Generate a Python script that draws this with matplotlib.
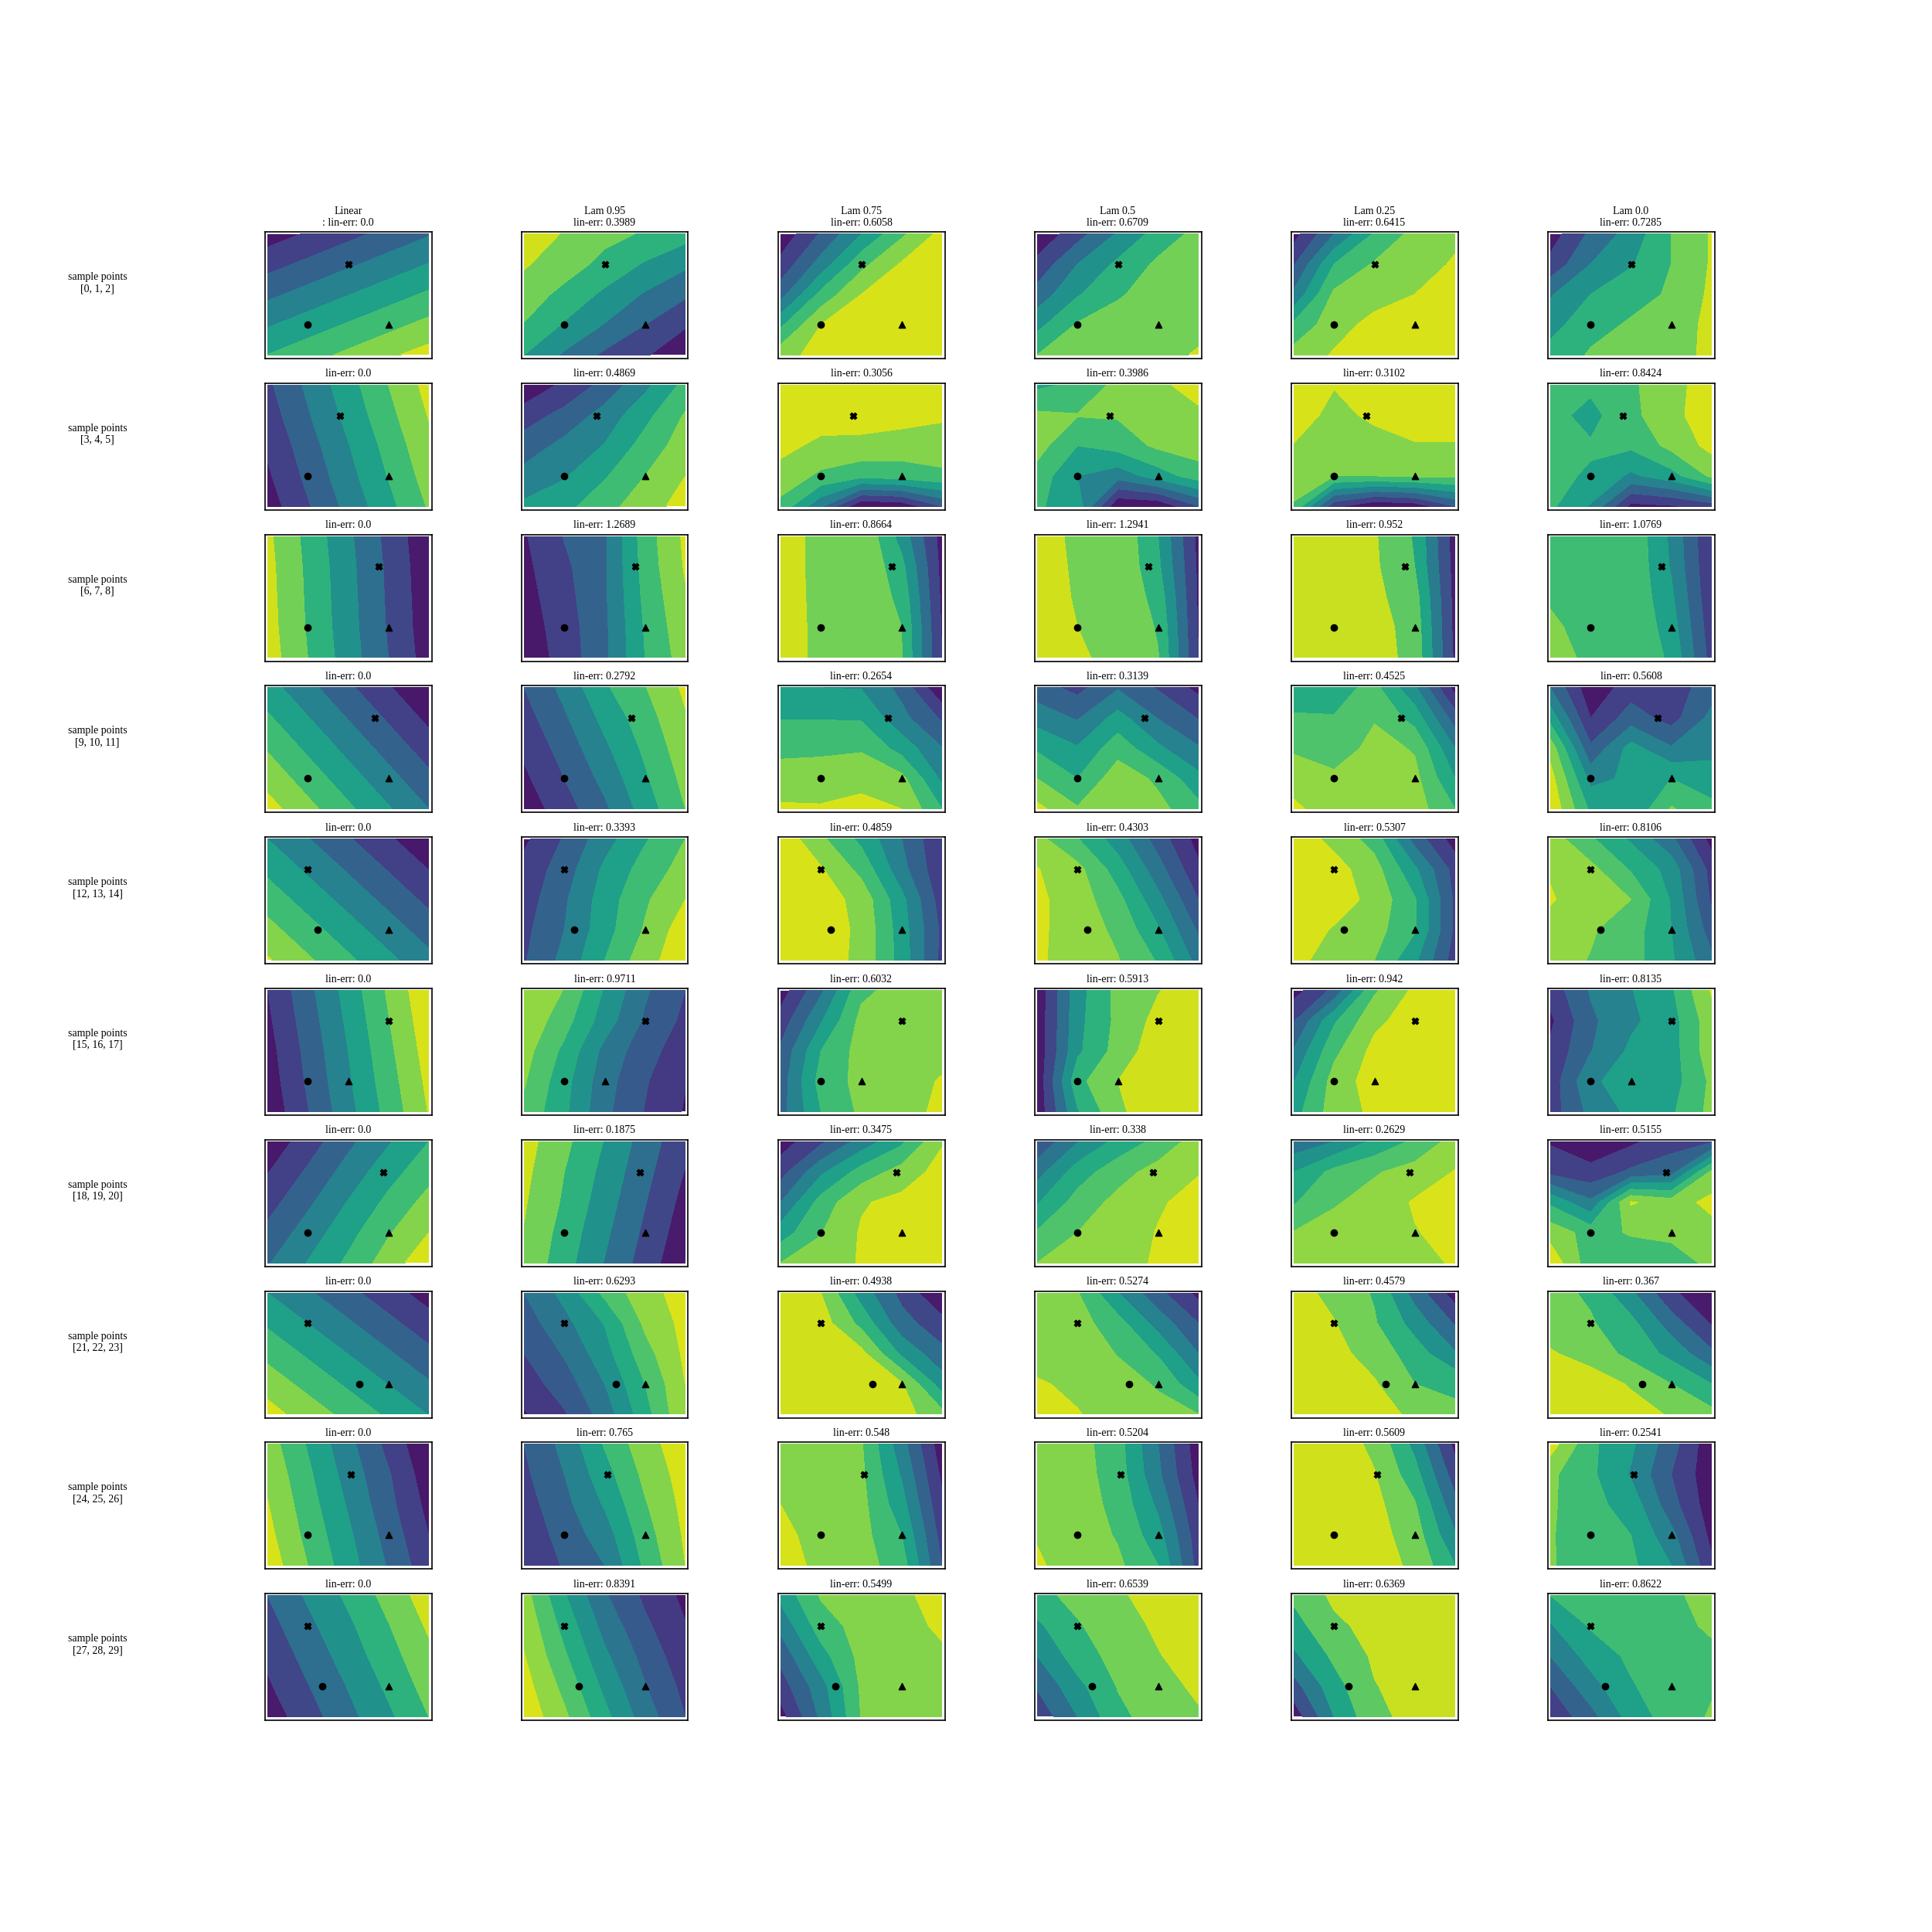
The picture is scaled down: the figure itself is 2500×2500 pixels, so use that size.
import numpy as np
import matplotlib
matplotlib.use('Agg')
import matplotlib.pyplot as plt

plt.rcParams['font.family'] = ['Liberation Serif', 'DejaVu Serif']

# column headers and the lin-err value of every panel
headers = ['Linear\n: ', 'Lam 0.95\n', 'Lam 0.75\n', 'Lam 0.5\n', 'Lam 0.25\n', 'Lam 0.0\n']
lin_err = [
    [0.0, 0.3989, 0.6058, 0.6709, 0.6415, 0.7285],
    [0.0, 0.4869, 0.3056, 0.3986, 0.3102, 0.8424],
    [0.0, 1.2689, 0.8664, 1.2941, 0.952, 1.0769],
    [0.0, 0.2792, 0.2654, 0.3139, 0.4525, 0.5608],
    [0.0, 0.3393, 0.4859, 0.4303, 0.5307, 0.8106],
    [0.0, 0.9711, 0.6032, 0.5913, 0.942, 0.8135],
    [0.0, 0.1875, 0.3475, 0.338, 0.2629, 0.5155],
    [0.0, 0.6293, 0.4938, 0.5274, 0.4579, 0.367],
    [0.0, 0.765, 0.548, 0.5204, 0.5609, 0.2541],
    [0.0, 0.8391, 0.5499, 0.6539, 0.6369, 0.8622],
]
sample_ids = ['[0, 1, 2]', '[3, 4, 5]', '[6, 7, 8]', '[9, 10, 11]', '[12, 13, 14]',
              '[15, 16, 17]', '[18, 19, 20]', '[21, 22, 23]', '[24, 25, 26]', '[27, 28, 29]']

# sample point x positions per row (y is fixed: 0, 0, 1)
circle_x = [0, 0, 0, 0, 0.12, 0, 0, 0.64, 0, 0.18]
triangle_x = [1, 1, 1, 1, 1, 0.5, 1, 1, 1, 1]
cross_x = [0.5, 0.4, 0.88, 0.83, 0, 1, 0.94, 0, 0.53, 0]

# number of colour bands per panel
n_bands = [
    [8, 7, 8, 7, 8, 7],
    [8, 8, 8, 8, 8, 8],
    [7, 8, 7, 7, 6, 8],
    [8, 8, 8, 8, 9, 8],
    [8, 8, 8, 9, 8, 9],
    [8, 9, 8, 7, 8, 8],
    [8, 7, 8, 9, 9, 8],
    [8, 9, 7, 8, 7, 7],
    [8, 8, 8, 8, 7, 8],
    [7, 9, 8, 7, 6, 8],
]

# surfaces, top row first, one panel per line
z_row0 = [
    [[.5,1.1,1.7,2.3,2.9],[1.63,2.23,2.83,3.43,4.03],[2.76,3.36,3.96,4.56,5.16],[3.89,4.49,5.09,5.69,6.29],[5.02,5.62,6.22,6.82,7.42]],
    [[6.77,5.9,5.3,4.9,4.4],[6.1,5.5,4.7,3.9,3.2],[5.55,4.7,3.8,2.9,2.15],[4.95,3.9,2.95,2,1.1],[4,2.85,1.8,1.1,.3]],
    [[.3,2.1,4,5.8,7.3],[1.3,3.4,5.7,7.1,7.6],[2.6,5.3,7,7.6,7.6],[4.8,7,7.5,7.6,7.6],[6.6,7.4,7.6,7.6,7.6]],
    [[.2,1.6,3.1,4.4,5.3],[1.3,3,4.2,5.2,5.5],[2.4,3.9,4.9,5.4,5.6],[3.7,5.1,5.4,5.5,5.7],[5,5.4,5.5,5.7,6.1]],
    [[.6,3,5.1,6.3,6.8],[1.9,5,6.1,6.6,7.1],[3.2,6.2,6.6,7,7.3],[5.2,6.6,7.3,7.5,7.6],[6.4,7.1,7.5,7.6,7.6]],
    [[.5,2.2,3.4,5,6.1],[1.3,3,3.9,5,6.1],[2.9,4,4.7,5.1,6.2],[3.6,4.7,5.1,5.4,6.3],[4.4,5.1,5.3,5.5,6.3]],
]
z_row1 = [
    [[1.8,3.2,4.6,6,7.35],[1.5,2.9,4.3,5.7,7.05],[1.15,2.55,3.95,5.35,6.75],[.85,2.25,3.65,5.05,6.45],[.5,1.9,3.3,4.7,6.1]],
    [[.1,1.25,2.3,3.75,5.3],[1.55,2.3,3.4,4.7,6.1],[2.45,3.3,4.05,5.4,6.5],[3.35,3.9,4.9,6,7],[4.2,4.7,5.65,6.55,7.4]],
    [[7.8,7.8,7.8,7.8,7.7],[7.6,7.5,7.5,7.4,7.15],[7.3,6.75,6.7,6.5,6.5],[6.6,5.8,5.3,5.5,5.8],[5.7,3.2,.1,.3,2]],
    [[4.8,5.2,6.3,6.8,7.4],[6.2,6.05,6.1,6.7,6.8],[6.4,5,5.4,6.2,6.5],[5.6,4,3.4,4.5,5.5],[5.1,4.6,.1,.2,2]],
    [[7.7,7.05,7.5,7.7,7.7],[7.5,6.7,7.2,7.6,7.6],[6.95,6.5,6.6,6.9,6.9],[6.5,6,6,6.15,6.2],[5.9,1.3,.1,.4,2]],
    [[5.2,5.2,5.8,6.8,7.3],[5.3,4.7,5.7,6.8,7.4],[5.3,5.1,5.2,6.3,7.3],[5.2,4.9,3.8,4.6,6.2],[5.2,3.9,.7,.9,1.5]],
]
z_row2 = [
    [[6.2,4.7,3.2,1.7,.2],[6.3,4.8,3.3,1.8,.3],[6.35,4.85,3.35,1.85,.35],[6.4,4.9,3.4,1.9,.4],[6.5,5,3.5,2,.5]],
    [[.9,2.05,2.85,5.5,7.2],[.75,1.8,2.85,5.4,7.1],[.6,1.65,2.85,5.25,6.9],[.45,1.5,2.8,5.1,6.7],[.3,1.4,2.8,5,6.5]],
    [[6.03,5.98,5.95,3.6,.6],[6.06,5.96,5.95,4.3,.7],[6.1,5.94,5.9,4.7,.8],[6.15,5.92,5.9,5,.9],[6.2,5.9,5.85,5.05,1]],
    [[6.4,5.8,5.9,4,.7],[6.45,5.85,5.9,4.2,.8],[6.5,5.9,5.9,4.6,.85],[6.55,6,5.9,4.9,.9],[6.6,6.05,5.9,5.05,1]],
    [[5.7,5.4,5.1,3.9,.5],[5.7,5.45,5.15,4,.6],[5.7,5.5,5.25,4.4,.65],[5.7,5.55,5.4,4.6,.7],[5.7,5.6,5.4,4.7,.8]],
    [[5.4,5.3,5.8,3.8,1],[5.6,5.3,5.85,3.9,1.1],[5.8,5.35,5.85,4.2,1.2],[6.3,5.4,5.9,4.5,1.4],[7,5.45,5.9,4.8,1.6]],
]
z_row3 = [
    [[4.4,3.3,2.2,1.1,.05],[5.15,4.05,2.95,1.85,.75],[5.9,4.8,3.7,2.6,1.5],[6.65,5.55,4.45,3.35,2.25],[7.4,6.3,5.2,4.1,3]],
    [[2,3.3,4.85,5.95,7.2],[1.6,2.85,4.3,5.55,6.9],[1.2,2.4,3.8,5.2,6.6],[.8,2,3.3,4.85,6.3],[.4,1.55,2.8,4.45,6]],
    [[4,4,3.95,2.7,.1],[4.95,4.95,4.9,3.3,1.85],[5.75,5.8,5.9,4.6,3.05],[6.45,6.5,6.6,6.3,3.8],[7.15,7.1,7.4,7,5]],
    [[2.4,1.7,2.9,1.9,.7],[3.6,2.9,4.4,2.95,1.95],[4.85,4.1,5.6,4.2,3.1],[6,5,6.6,5.8,4.3],[7.3,6.1,7,6.3,5.3]],
    [[5.3,5.6,6.3,4.2,.6],[6.15,6.05,6.9,5.6,2.5],[6.85,6.3,7.4,6.9,4],[7.6,7.3,7.6,7.3,5],[8.2,7.5,7.6,7.5,6]],
    [[3,.3,1.5,1.5,2.5],[4.6,1,2.5,1.6,3.3],[6.6,2.2,4.4,3.1,3.6],[7.4,3.7,4.2,5,4.6],[7.8,4.8,4.1,6.1,5.2]],
]
z_row4 = [
    [[4,3.05,2.1,1.15,.2],[4.78,3.83,2.88,1.93,.98],[5.55,4.6,3.65,2.7,1.75],[6.33,5.38,4.43,3.48,2.53],[7.1,6.15,5.2,4.25,3.3]],
    [[.8,2.1,3.6,4.9,6],[1.3,2.5,4.2,5.4,6.4],[1.5,2.85,4.5,5.85,7],[1.75,3,4.6,6.1,7.6],[1.9,3.3,5,6.6,7.7]],
    [[7.7,6.2,4.75,3,1.1],[7.7,7.1,5.7,3.35,1.2],[7.7,7.5,6.65,4.3,1.5],[7.7,7.5,6.8,4.5,1.8],[7.7,7.5,6.75,4.6,1.7]],
    [[7.3,6.05,4.5,2.55,.6],[8.05,7.3,5.5,3.4,1.2],[8.2,7.5,6.3,4.3,2],[8.2,7.5,6.8,5.1,2.85],[8.2,7.4,7.05,5.9,3.6]],
    [[7.6,6.7,5.6,2.6,.5],[7.6,7.4,6.4,4.2,1.6],[7.6,7.5,6.7,5.1,1.8],[7.6,6.9,6.4,5.1,1.8],[7.2,6.7,6,4.2,1.5]],
    [[7.5,6.15,4.85,3.25,.6],[7.9,7.3,5.9,4.6,1.6],[8.1,7.4,7,4.9,1.85],[7.6,7.1,6.5,5,2.5],[7.4,6.95,6.4,5.15,3.2]],
]
z_row5 = [
    [[1,2.7,4.4,6.15,7.85],[.8,2.5,4.2,5.95,7.65],[.6,2.3,4,5.75,7.45],[.45,2.15,3.85,5.55,7.25],[.25,1.95,3.65,5.35,7.05]],
    [[8,6.95,4.9,3.15,2],[7.8,6.4,4.5,2.85,1.75],[7.4,5.75,3.7,2.4,1.4],[7.1,5.35,3.4,2.1,1.05],[6.75,5.2,3.25,1.95,.9]],
    [[.5,2.8,5.75,6.4,6.5],[1.4,3.9,6.3,6.5,6.6],[2.2,5,6.4,6.5,6.6],[2.5,5.4,6.3,6.5,7.1],[2.6,5,6.2,6.5,7.3]],
    [[.3,3.6,5.3,5.95,6.6],[.3,3.7,5.25,6.3,6.6],[.3,3.8,5.4,6.6,6.6],[.3,4.7,6,6.7,6.7],[.3,3.9,5.8,6.7,6.7]],
    [[.6,2.25,5.85,7.2,7.6],[1.9,4.85,6.75,7.5,7.6],[3.1,5.75,7.3,7.6,7.6],[3.95,6.4,7.5,7.6,7.6],[4.6,6.5,7.2,7.6,7.6]],
    [[1.4,3.1,3.95,4.85,7.1],[.8,2.8,3.8,4.6,6.6],[1.2,2.95,4.2,4.55,6.6],[1.4,3.85,4.4,4.55,6.2],[1.5,3.3,4.25,4.85,6.3]],
]
z_row6 = [
    [[.3,1.5,2.75,3.9,5],[.95,2.15,3.4,4.6,5.65],[1.6,2.8,4.05,5.25,6.35],[2.25,3.45,4.65,5.9,7],[2.9,4.05,5.2,6.5,7.7]],
    [[6.4,5.25,3.95,2.55,1.2],[6.25,5,3.7,2.3,.95],[6.1,4.85,3.45,2.05,.65],[5.95,4.6,3.2,1.8,.4],[5.8,4.4,2.95,1.55,.1]],
    [[.5,1.8,3.4,4.8,6.9],[1.6,3.8,5.4,6.4,7.4],[3,5.4,6.9,7.3,7.6],[4.5,5.95,7.1,7.5,7.6],[6,6.4,7.1,7.5,7.6]],
    [[2.2,3.95,5.3,6.3,7.5],[3.6,5.5,6.6,7.4,7.95],[4.9,6.4,7.3,7.9,8.3],[6.1,7,7.5,8.05,8.3],[7,7.4,7.7,8.1,8.3]],
    [[3.3,4,5.2,6.2,7.4],[5,6.3,6.9,7.4,8.05],[5.9,6.9,7.4,8.1,8.3],[7.05,7.4,7.5,7.95,8.3],[7.5,7.5,7.6,7.7,8.1]],
    [[.9,.3,.8,1.6,1.9],[1.7,1.3,2.2,2.6,6.2],[4.8,3.2,7.1,6.5,7.3],[6.6,5.6,6.1,6.2,6.6],[7.7,5.4,5.3,5.6,6.2]],
]
z_row7 = [
    [[4,3.14,2.28,1.42,.56],[4.85,3.99,3.13,2.27,1.41],[5.7,4.84,3.98,3.12,2.26],[6.55,5.69,4.83,3.97,3.11],[7.4,6.54,5.68,4.82,3.96]],
    [[3,4.3,6.25,7.65,8.4],[2.5,3.7,5.05,7.2,8.3],[2,3.1,4.6,6.6,8.2],[1.5,2.5,4,6,8],[.9,1.9,3.45,5.6,7.9]],
    [[6.5,6,3.55,1.7,.05],[6.5,6.5,4.7,2.4,1.35],[6.5,6.5,6.3,3.8,2.3],[6.5,6.5,6.5,6.1,3.5],[6.5,6.5,6.5,6.4,5.3]],
    [[6.4,6.05,4.05,2.3,.7],[6.5,6.4,5.4,3.6,2],[6.6,6.6,5.95,4.9,3],[7.1,6.8,6.4,5.9,4.2],[7.8,7.05,6.6,6.3,6]],
    [[6.4,5.7,4.9,2.6,.5],[6.5,6.05,5.1,3.6,1.9],[6.5,6.3,5.6,4.5,3.1],[6.5,6.5,6.1,5,4.8],[6.5,6.5,6.4,5.8,5.2]],
    [[5.3,4.85,3.2,1.2,.1],[5.5,5.1,4.3,2.5,.9],[6.1,5.6,4.7,3.7,2.2],[6.6,6.5,5.9,5,4],[6.7,6.6,6.4,5.9,5.3]],
]
z_row8 = [
    [[6.5,4.9,3.3,1.7,.1],[6.8,5.2,3.6,2.1,.4],[7.05,5.45,3.9,2.3,.7],[7.3,5.7,4.2,2.6,1],[7.6,6,4.45,2.9,1.3]],
    [[2,3.3,5.1,6.6,7.6],[1.8,3,4.6,6.25,7.45],[1.55,2.7,4.1,5.9,7.3],[1.3,2.4,3.5,5.55,7.15],[1.1,2.1,3,5.2,7]],
    [[6.6,6.4,6.1,3.4,.4],[6.65,6.45,6.2,3.9,.8],[7,6.5,6.3,4.4,1.2],[7.35,6.5,6.35,5,1.6],[7.8,6.55,6.4,5.5,2]],
    [[6.6,6.4,5.4,3,.4],[6.65,6.45,5.5,3.2,.6],[6.75,6.5,5.7,3.8,1],[6.95,6.6,5.9,4.4,1.4],[7.1,6.65,6.2,5,1.6]],
    [[6.6,6.5,5.8,3.7,.7],[6.6,6.5,6.05,4.4,1.5],[6.6,6.5,6.3,5.1,2.3],[6.6,6.5,6.4,5.5,3.1],[6.6,6.5,6.45,5.8,4]],
    [[7.5,5.2,4.2,2.4,.3],[6.2,5.2,3.9,2,.3],[6.15,5.3,4.6,2.4,.4],[6.1,5.3,5,3.3,.7],[6.1,5.4,5.2,4,1.2]],
]
z_row9 = [
    [[2,3.15,4.2,5.35,6.55],[1.6,2.75,3.8,4.95,6.15],[1.2,2.35,3.45,4.6,5.75],[.85,1.95,3.05,4.2,5.4],[.45,1.55,2.7,3.8,5]],
    [[7.4,5.1,3.1,1.8,.75],[7.75,5.65,3.65,2.2,1.05],[8.05,6.15,4.2,2.65,1.35],[8.4,6.7,4.75,3.05,1.7],[8.7,7.2,5.3,3.5,2]],
    [[4.3,6.1,6.5,6.85,7.3],[3.3,5.5,6.4,6.8,7.1],[2.3,4.6,6.3,6.6,6.9],[1.5,3.6,6.15,6.5,6.7],[.6,3.2,6.05,6.4,6.6]],
    [[4.7,5.3,5.85,6.4,6.8],[3.8,4.9,5.6,6.15,6.6],[3,4.5,5.35,5.95,6.4],[2.1,3.7,5.05,5.7,6.15],[1.3,3,4.75,5.45,5.9]],
    [[4.2,5.2,5.4,5.6,5.7],[3.6,4.8,5.3,5.55,5.7],[2.8,4.2,5.15,5.5,5.65],[1.6,3.6,4.95,5.4,5.6],[.4,3,4.75,5.3,5.6]],
    [[5,5.4,5.6,5.85,6.3],[3.9,5.1,5.4,5.8,6.1],[3,4.4,5.2,5.7,5.85],[2,3.6,4.9,5.6,5.9],[1.2,2.65,4.4,5.5,6.1]],
]
z_rows = [z_row0, z_row1, z_row2, z_row3, z_row4, z_row5, z_row6, z_row7, z_row8, z_row9]

grid_x = np.linspace(-0.5, 1.5, 5)
grid_y = np.linspace(1.5, -0.5, 5)

fig = plt.figure(figsize=(25, 25), dpi=100)

# panel layout in pixels of the 2500 px figure
left, col_step, width = 342.5, 332, 216
top, row_step, height = 300, 195.8, 164

for r in range(10):
    y0 = 1 - (top + r * row_step + height) / 2500
    fig.text(126 / 2500, y0 + (height / 2 + 16) / 2500, 'sample points\n' + sample_ids[r],
             ha='center', va='center', fontsize=10)
    for c in range(6):
        ax = fig.add_axes([(left + c * col_step) / 2500, y0, width / 2500, height / 2500])
        n = n_bands[r][c]
        ax.contourf(grid_x, grid_y, np.array(z_rows[r][c]), levels=np.arange(n + 1), cmap='viridis')
        ax.scatter([circle_x[r]], [0], marker='o', color='k', s=36, zorder=3)
        ax.scatter([triangle_x[r]], [0], marker='^', color='k', s=36, zorder=3)
        ax.scatter([cross_x[r]], [1], marker='X', color='k', s=36, zorder=3)
        ax.set_xlim(-0.535, 1.535)
        ax.set_ylim(-0.56, 1.532)
        ax.set_xticks([])
        ax.set_yticks([])
        for s in ax.spines.values():
            s.set_linewidth(1.2)
        title = 'lin-err: ' + str(lin_err[r][c])
        if r == 0:
            title = headers[c] + title
        ax.set_title(title, fontsize=10, pad=6)

plt.savefig('out.png', dpi=100)
